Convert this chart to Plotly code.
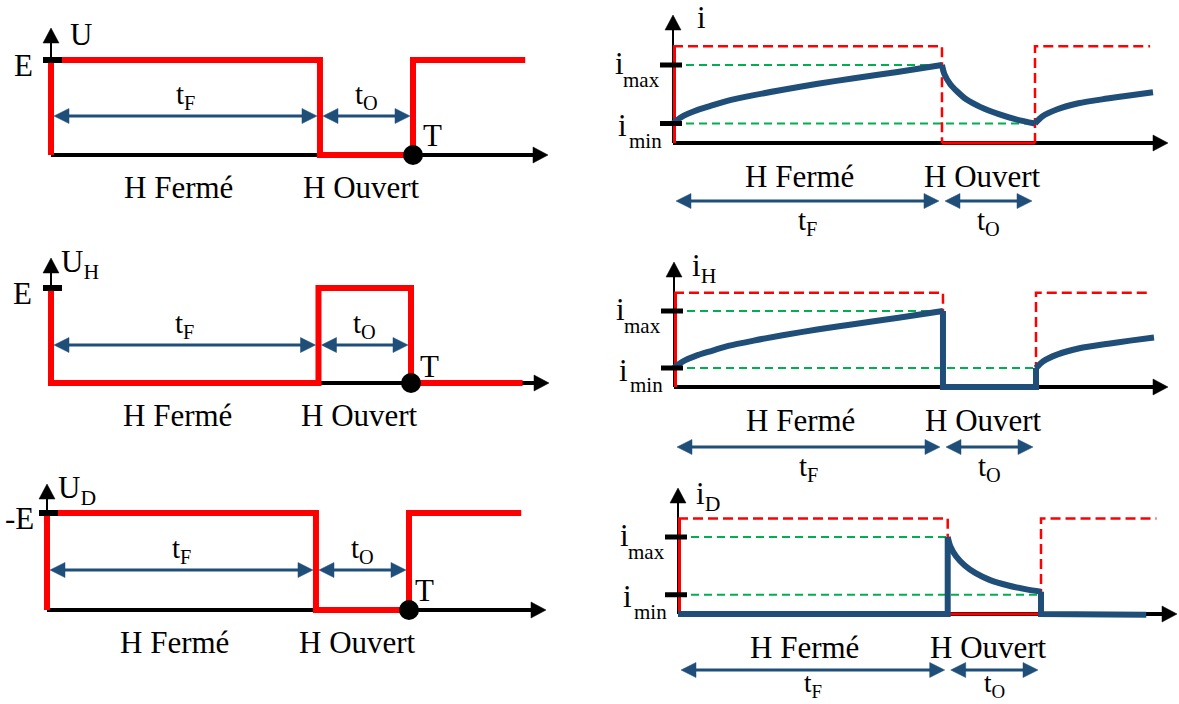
import plotly.graph_objects as go

W, H = 1179, 704

# ------------------------------------------------------------------ data
T = 1.0          # period
TF = 0.743       # end of "H fermé" interval
T_END = 1.31     # end of drawn signals

t_sig = [0, 0, TF, TF, T, T, T_END]
u_v = [0, 1, 1, 0, 0, 1, 1]      # U  (units of E)
uh_v = [1, 0, 0, 1, 1, 0, 0]     # U_H
ud_v = [0, 1, 1, 0, 0, 1, 1]     # U_D (units of -E)

I_MIN = 0.25
I_MAX = 1.0
CMD = 1.24       # level of dashed command signal

rise_t = [0, 0.01, 0.03, 0.06, 0.10, 0.15, 0.22, 0.30, 0.40, 0.50, 0.62, 0.743]
rise_v = [0.25, 0.29, 0.35, 0.41, 0.47, 0.54, 0.61, 0.68, 0.76, 0.83, 0.91, 1.0]
fall_t = [0.743, 0.75, 0.765, 0.785, 0.81, 0.85, 0.90, 0.95, 1.0]
fall_v = [1.0, 0.88, 0.76, 0.66, 0.56, 0.46, 0.37, 0.30, 0.25]
rise2_t = [1.0, 1.02, 1.06, 1.12, 1.2, 1.26, 1.326]
rise2_v = [0.25, 0.34, 0.43, 0.51, 0.57, 0.61, 0.65]
fallD_t = [0.743, 0.75, 0.766, 0.79, 0.82, 0.86, 0.91, 0.96, 1.0]
fallD_v = [1.0, 0.88, 0.75, 0.63, 0.53, 0.44, 0.37, 0.32, 0.29]

# straight parts of the currents
iH_off_t = [TF, TF, T, T]
iH_off_v = [1.0, 0, 0, I_MIN]
iD_on_t = [0, TF, TF]
iD_on_v = [0, 0, 1.0]
iD_end_t = [T, T, 1.29]
iD_end_v = [0.29, 0, -0.01]

cmd_d1_t = [0, TF, TF]
cmd_d1_v = [CMD, CMD, 0]
cmd_d2_t = [T, T, 1.318]
cmd_d2_v = [0, CMD, CMD]

# ------------------------------------------------------------------ style / layout
FONT = "Liberation Serif"
RED, BLUE, GREEN, BLACK = "#FF0000", "#1F4E79", "#00B050", "#000000"

# pixel origin / scale of each panel (layout only)
P = {
    1: dict(ox=51, oy=155, sx=362, sy=95, tip=127, xlen=497, arr=39, lab=20, ls=29),
    2: dict(ox=673, oy=143, sx=362, sy=78, tip=128, xlen=495, arr=-58, lab=-21, ls=29),
    3: dict(ox=51, oy=383, sx=360, sy=95, tip=125, xlen=498, arr=38, lab=20, ls=29),
    4: dict(ox=674, oy=387, sx=362, sy=76, tip=125, xlen=494, arr=-60, lab=-21, ls=29),
    5: dict(ox=47, oy=610, sx=362, sy=97, tip=126, xlen=499, arr=40, lab=20, ls=29),
    6: dict(ox=678, oy=614, sx=363, sy=77, tip=126, xlen=499, arr=-56, lab=-15, ls=27),
}

fig = go.Figure()
axes = {}
annotations = []
shapes = []


def names(k):
    return ("x", "y") if k == 1 else (f"x{k}", f"y{k}")


for k, p in P.items():
    xn, yn = names(k)
    axes["xaxis" if k == 1 else f"xaxis{k}"] = dict(
        domain=[0, 1], range=[-p["ox"] / p["sx"], (W - p["ox"]) / p["sx"]],
        visible=False, fixedrange=True, anchor=yn)
    axes["yaxis" if k == 1 else f"yaxis{k}"] = dict(
        domain=[0, 1], range=[(p["oy"] - H) / p["sy"], p["oy"] / p["sy"]],
        visible=False, fixedrange=True, anchor=xn)


def line(k, x, y, color, width, dash=None, shape="linear"):
    xn, yn = names(k)
    fig.add_trace(go.Scatter(x=x, y=y, xaxis=xn, yaxis=yn, mode="lines",
                             line=dict(color=color, width=width, dash=dash,
                                       shape=shape, smoothing=0.8),
                             hoverinfo="skip", showlegend=False))


def dot(k, x, y):
    xn, yn = names(k)
    fig.add_trace(go.Scatter(x=[x], y=[y], xaxis=xn, yaxis=yn, mode="markers",
                             marker=dict(size=20, color=BLACK),
                             hoverinfo="skip", showlegend=False))


def text(k, x, y, s, size=31, xshift=0, yshift=0, xanchor="center", yanchor="middle"):
    xn, yn = names(k)
    annotations.append(dict(xref=xn, yref=yn, x=x, y=y, text=s, showarrow=False,
                            font=dict(family=FONT, size=size, color=BLACK),
                            xshift=xshift, yshift=yshift,
                            xanchor=xanchor, yanchor=yanchor))


def head(k, xt, yt, ux, uy, color, L=15, Wd=15):
    """filled triangular arrow head, tip at data point (xt, yt), direction (ux, uy) in screen px (y up)"""
    xn, yn = names(k)
    p = P[k]
    bx, by = -ux * L, -uy * L
    qx, qy = -uy, ux
    pts = [(0, 0), (bx + qx * Wd / 2, by + qy * Wd / 2), (bx - qx * Wd / 2, by - qy * Wd / 2)]
    path = "M " + " L ".join(f"{xt + dx / p['sx']:.6f},{yt + dy / p['sy']:.6f}" for dx, dy in pts) + " Z"
    shapes.append(dict(type="path", xref=xn, yref=yn, path=path, fillcolor=color,
                       line=dict(color=color, width=0.5), layer="above"))


def axes_arrows(k):
    p = P[k]
    px, py = 1 / p["sx"], 1 / p["sy"]
    ytip, xtip = p["tip"] * py, p["xlen"] * px
    line(k, [0, 0], [0, ytip - 8 * py], BLACK, 2)
    head(k, 0, ytip, 0, 1, BLACK, L=15, Wd=16)
    line(k, [0, xtip - 8 * px], [0, 0], BLACK, 4)
    head(k, xtip, 0, 1, 0, BLACK, L=15, Wd=16)
    return ytip


def dbl_arrow(k, xa, xb, ya):
    px = 1 / P[k]["sx"]
    line(k, [xa + 8 * px, xb - 8 * px], [ya, ya], BLUE, 3)
    head(k, xa, ya, -1, 0, BLUE)
    head(k, xb, ya, 1, 0, BLUE)


def time_arrows(k):
    p = P[k]
    px, py = 1 / p["sx"], 1 / p["sy"]
    ya = p["arr"] * py
    dbl_arrow(k, 3 * px, TF - 3 * px, ya)
    dbl_arrow(k, TF + 3 * px, T - 3 * px, ya)
    text(k, TF / 2, ya, "t<sub>F</sub>", size=p["ls"], yshift=p["lab"])
    text(k, (TF + T) / 2, ya, "t<sub>O</sub>", size=p["ls"], yshift=p["lab"])


def h_labels(k, yshift, xs1=-7, xs2=-5):
    text(k, TF / 2, 0, "H Fermé", xshift=xs1, yshift=yshift)
    text(k, (TF + T) / 2, 0, "H Ouvert", xshift=xs2, yshift=yshift)


def left_panel(k, sig, name, elab, name_dx, e_dx, t_dx, t_dy):
    p = P[k]
    px = 1 / p["sx"]
    ytip = axes_arrows(k)
    line(k, t_sig, sig, RED, 6)
    line(k, [-8 * px, 11 * px], [1, 1], BLACK, 6)
    dot(k, T, 0)
    text(k, 0, ytip, name, xanchor="left", xshift=name_dx, yshift=-6)
    text(k, 0, 1, elab, xanchor="right", xshift=e_dx, yshift=-5)
    text(k, T, 0, "T", xanchor="left", xshift=t_dx, yshift=t_dy)
    time_arrows(k)
    h_labels(k, -32)


def right_panel(k, curves, name, name_dx, name_dy):
    p = P[k]
    px = 1 / p["sx"]
    ytip = axes_arrows(k)
    line(k, [0, TF], [I_MAX, I_MAX], GREEN, 2, "8px,5px")
    line(k, [0, T], [I_MIN, I_MIN], GREEN, 2, "8px,5px")
    line(k, [1.5 * px, 1.5 * px], [0, CMD], RED, 3)
    line(k, [TF, T], [0, 0], RED, 3)
    line(k, cmd_d1_t, cmd_d1_v, RED, 2.5, "10px,5px")
    line(k, cmd_d2_t, cmd_d2_v, RED, 2.5, "10px,5px")
    for ct, cv, shp in curves:
        line(k, ct, cv, BLUE, 6, shape=shp)
    line(k, [-13 * px, 9 * px], [I_MAX, I_MAX], BLACK, 5)
    line(k, [-13 * px, 9 * px], [I_MIN, I_MIN], BLACK, 5)
    text(k, 0, ytip, name, xanchor="left", xshift=name_dx, yshift=name_dy)
    text(k, 0, I_MAX, "i", size=31, xshift=-54, yshift=2)
    text(k, 0, I_MAX, "max", size=21, xshift=-32, yshift=-15)
    text(k, 0, I_MIN, "i", size=31, xshift=-51, yshift=-2)
    text(k, 0, I_MIN, "min", size=21, xshift=-28, yshift=-17)
    time_arrows(k)
    h_labels(k, -33, -8, -6)


left_panel(1, u_v, "U", "E", 17, -16, 8, 20)
left_panel(3, uh_v, "U<sub>H</sub>", "E", 8, -17, 7, 17)
left_panel(5, ud_v, "U<sub>D</sub>", "-E", 9, -11, 4, 20)
right_panel(2, [(rise_t, rise_v, "spline"), (fall_t, fall_v, "spline"),
                (rise2_t, rise2_v, "spline")], "i", 22, -2)
right_panel(4, [(rise_t, rise_v, "spline"), (iH_off_t, iH_off_v, "linear"),
                (rise2_t, rise2_v, "spline")], "i<sub>H</sub>", 16, -6)
right_panel(6, [(iD_on_t, iD_on_v, "linear"), (fallD_t, fallD_v, "spline"),
                (iD_end_t, iD_end_v, "linear")], "i<sub>D</sub>", 16, -8)

fig.update_layout(width=W, height=H, margin=dict(l=0, r=0, t=0, b=0),
                  paper_bgcolor="white", plot_bgcolor="rgba(0,0,0,0)",
                  showlegend=False, annotations=annotations, shapes=shapes, **axes)
fig.write_html("out.html", config={"displayModeBar": False},
               post_script="document.body.style.margin='0';document.body.style.overflow='hidden';")
